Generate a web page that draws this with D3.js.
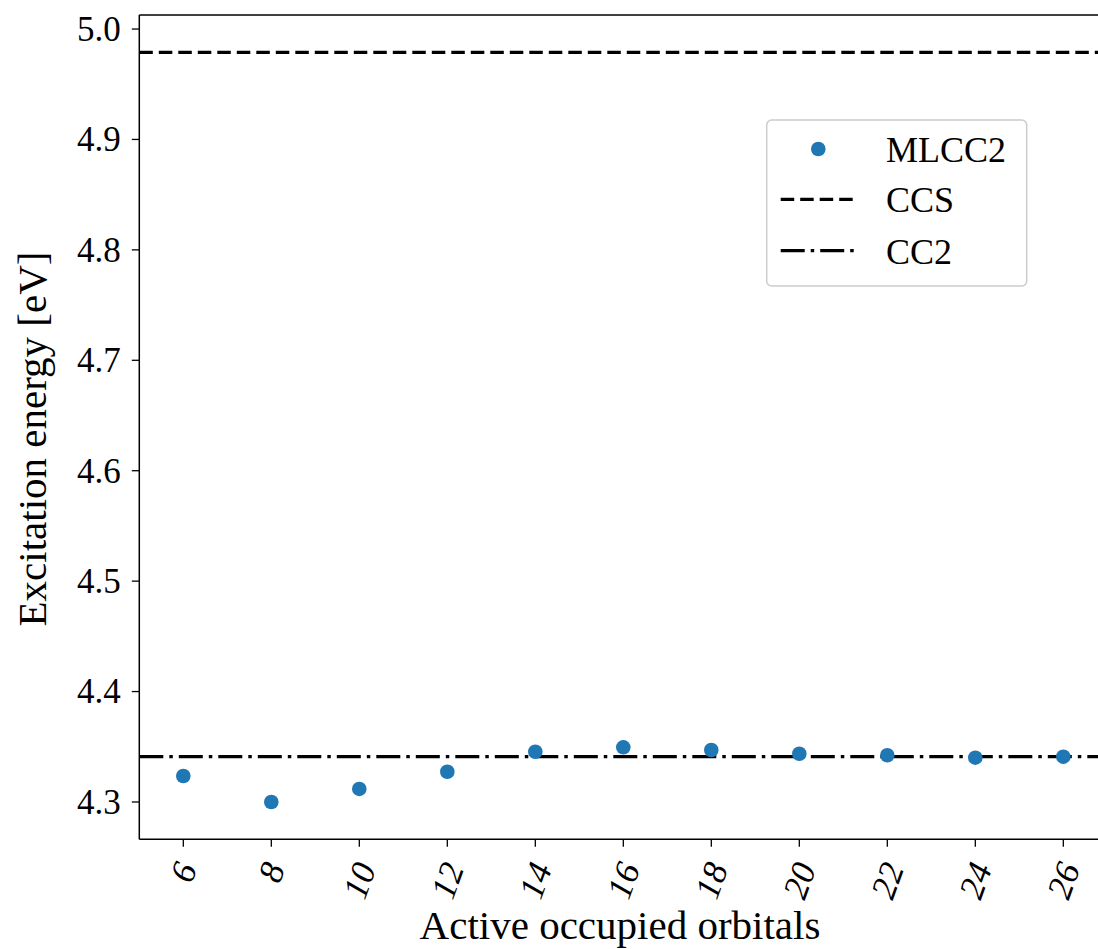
<!DOCTYPE html>
<html>
<head>
<meta charset="utf-8">
<script src="https://cdn.jsdelivr.net/npm/d3@7"></script>
<style>
body { margin: 0; background: #fff; }
text { font-family: "Liberation Serif", "DejaVu Serif", serif; fill: #000; }
</style>
</head>
<body>
<div id="chart"></div>
<script>
var orbitals = [6, 8, 10, 12, 14, 16, 18, 20, 22, 24, 26];
var mlcc2 = [4.3235, 4.3000, 4.3118, 4.3274, 4.3455, 4.3495, 4.3471, 4.3437, 4.3423, 4.3401, 4.3410];
var ccs = 4.9789;
var cc2 = 4.3410;
var yTicks = [4.3, 4.4, 4.5, 4.6, 4.7, 4.8, 4.9, 5.0];
var legendNames = ["MLCC2", "CCS", "CC2"];

var W = 1098, H = 949;
var L = 139.3, R = 1107.3, T = 15, B = 839.3;

var svg = d3.select("#chart").append("svg")
	.attr("width", W)
	.attr("height", H);

var x = d3.scaleLinear().domain([5, 27]).range([L, R]);
var y = d3.scaleLinear().domain([4.2662, 5.0127]).range([B, T]);

// reference lines
var dashes = { ccs: "13.5,6", cc2: "24,6,3.5,6" };
svg.append("line")
	.attr("x1", L).attr("x2", R)
	.attr("y1", y(ccs)).attr("y2", y(ccs))
	.attr("stroke", "#000").attr("stroke-width", 3.3)
	.attr("stroke-dasharray", dashes.ccs);
svg.append("line")
	.attr("x1", L).attr("x2", R)
	.attr("y1", y(cc2)).attr("y2", y(cc2))
	.attr("stroke", "#000").attr("stroke-width", 3.3)
	.attr("stroke-dasharray", dashes.cc2);

// points
svg.selectAll("circle.pt")
	.data(orbitals)
	.enter().append("circle")
	.attr("class", "pt")
	.attr("cx", function(d) { return x(d); })
	.attr("cy", function(d, i) { return y(mlcc2[i]); })
	.attr("r", 7.3)
	.style("fill", "#1f77b4");

// spines
var spine = svg.append("g").attr("stroke", "#000").attr("stroke-width", 1.5).attr("fill", "none");
spine.append("line").attr("x1", L).attr("x2", L).attr("y1", T).attr("y2", B);
spine.append("line").attr("x1", L).attr("x2", R).attr("y1", B).attr("y2", B);
spine.append("line").attr("x1", L).attr("x2", R).attr("y1", T).attr("y2", T);
spine.append("line").attr("x1", R).attr("x2", R).attr("y1", T).attr("y2", B);

// y ticks
var yt = svg.selectAll("g.yt").data(yTicks).enter().append("g")
	.attr("transform", function(d) { return "translate(0," + y(d) + ")"; });
yt.append("line").attr("x1", L - 7.5).attr("x2", L)
	.attr("stroke", "#000").attr("stroke-width", 1.3);
yt.append("text")
	.attr("x", L - 18.5)
	.attr("dy", "0.34em")
	.attr("text-anchor", "end")
	.style("font-size", "35px")
	.text(function(d) { return d.toFixed(1); });

// x ticks
var xt = svg.selectAll("g.xt").data(orbitals).enter().append("g");
xt.append("line")
	.attr("x1", function(d) { return x(d); })
	.attr("x2", function(d) { return x(d); })
	.attr("y1", B).attr("y2", B + 7.5)
	.attr("stroke", "#000").attr("stroke-width", 1.3);
var ang = 70 * Math.PI / 180;
xt.append("text")
	.style("font-size", "35px")
	.style("font-style", "italic")
	.attr("text-anchor", "middle")
	.attr("dy", "0.34em")
	.text(function(d) { return d; })
	.attr("transform", function(d) {
		var w = this.getComputedTextLength();
		var h = 24;
		var cy = 860 + (w * Math.sin(ang) + h * Math.cos(ang)) / 2;
		return "translate(" + x(d) + "," + cy + ") rotate(-70)";
	});

// axis labels
svg.append("text")
	.attr("x", 620).attr("y", 939)
	.attr("text-anchor", "middle")
	.style("font-size", "41px")
	.text("Active occupied orbitals");
svg.append("text")
	.attr("transform", "translate(46,439) rotate(-90)")
	.attr("text-anchor", "middle")
	.style("font-size", "41px")
	.text("Excitation energy [eV]");

// legend
var lg = svg.append("g");
lg.append("rect")
	.attr("x", 766.7).attr("y", 120)
	.attr("width", 260).attr("height", 166)
	.attr("rx", 5).attr("ry", 5)
	.attr("fill", "#fff").attr("fill-opacity", 0.8)
	.attr("stroke", "#cccccc").attr("stroke-width", 1.5);
var rowY = [149, 199.3, 250.7];
lg.append("circle").attr("cx", 818.3).attr("cy", rowY[0]).attr("r", 7.3).style("fill", "#1f77b4");
lg.append("line").attr("x1", 780.7).attr("x2", 854).attr("y1", rowY[1]).attr("y2", rowY[1])
	.attr("stroke", "#000").attr("stroke-width", 3.3).attr("stroke-dasharray", dashes.ccs);
lg.append("line").attr("x1", 780.7).attr("x2", 854).attr("y1", rowY[2]).attr("y2", rowY[2])
	.attr("stroke", "#000").attr("stroke-width", 3.3).attr("stroke-dasharray", dashes.cc2);
lg.selectAll("text.lg").data(legendNames).enter().append("text")
	.attr("x", 886)
	.attr("y", function(d, i) { return rowY[i]; })
	.attr("dy", "0.36em")
	.style("font-size", "36px")
	.text(function(d) { return d; });
</script>
</body>
</html>
